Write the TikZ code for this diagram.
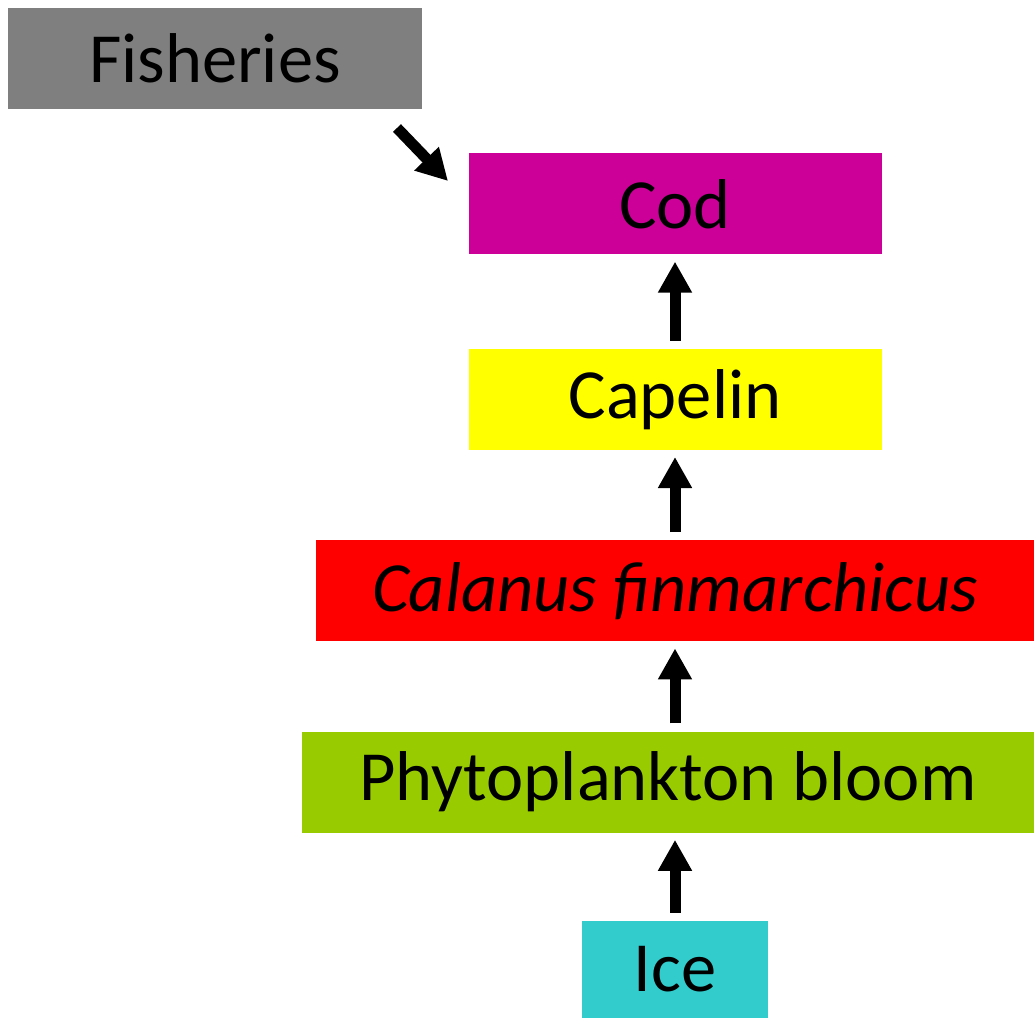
\documentclass[tikz,border=0pt]{standalone}
\usepackage{fontspec}
\setmainfont{Carlito}
\usetikzlibrary{arrows.meta, positioning}
\definecolor{fishgray}{HTML}{7F7F7F}
\definecolor{codpink}{HTML}{CC0099}
\definecolor{capyellow}{HTML}{FFFF00}
\definecolor{calred}{HTML}{FF0000}
\definecolor{phygreen}{HTML}{99CC00}
\definecolor{icecyan}{HTML}{33CCCC}
\tikzset{
  webbox/.style={
    rectangle, inner sep=0pt,
    minimum height=101pt,
    text centered, font=\fontsize{70.5}{82}\selectfont,
    draw=none, fill=#1, text=black
  },
  webarrow/.style={-{Triangle[length=31pt,width=32pt]}, line width=11pt,
    color=black, shorten <=8pt, shorten >=7pt},
}

\begin{document}
\begin{tikzpicture}[x=1pt,y=-1pt]
          \useasboundingbox (0,0) rectangle (1034,1018);
          \node[webbox=icecyan,minimum width=186pt,minimum height=97pt](ice) at (675,969.5){Ice};
          \node[webbox=phygreen,minimum width=732pt,above=88pt of ice,xshift=-7pt](phyto){Phytoplankton bloom};
          \node[webbox=calred,minimum width=718pt,above=90pt of phyto,xshift=7pt](cal){\itshape Calanus finmarchicus};
          \node[webbox=capyellow,minimum width=413pt,above=90pt of cal](cap){Capelin};
          \node[webbox=codpink,minimum width=413pt,above=94pt of cap](cod){Cod};
          \node[webbox=fishgray,minimum width=414pt](fish) at (215,58.5){Fisheries};
          \coordinate (fishtail) at (397,128);
          \coordinate (fishtip) at (448,181);
          \draw[webarrow](ice.north)--(ice.north|-phyto.south);
          \draw[webarrow](phyto.north-|ice.north)--(cal.south);
          \draw[webarrow](cal.north)--(cap.south);
          \draw[webarrow](cap.north)--(cod.south);
          \draw[webarrow,shorten <=0pt,shorten >=0pt](fishtail)--(fishtip);
        \end{tikzpicture}
\end{document}
